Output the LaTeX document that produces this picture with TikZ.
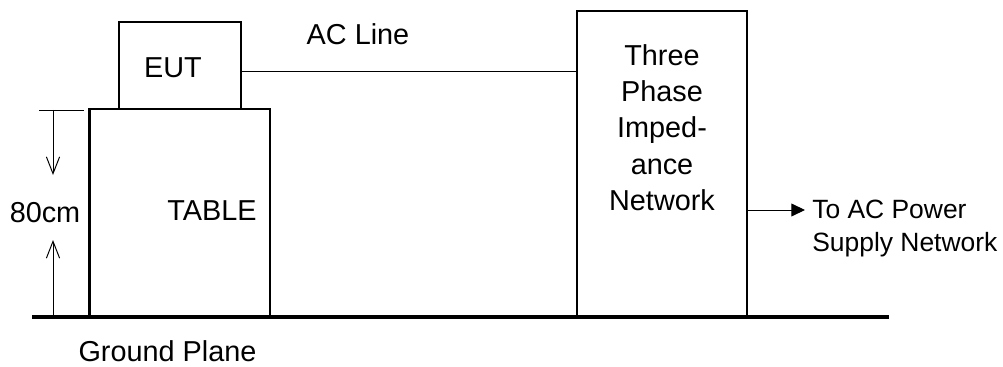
\documentclass[tikz,border=0pt]{standalone}
\usepackage{fontspec}
\setmainfont{Liberation Sans}
\usetikzlibrary{positioning,arrows.meta}

\begin{document}
\begin{tikzpicture}[x=0.025cm, y=-0.025cm,
        box/.style={rectangle, draw, line width=1.5pt, inner sep=0pt, outer sep=0pt},
        lbl/.style={font=\fontsize{20.5}{25.8}\selectfont, inner sep=0pt},
        note/.style={font=\fontsize{18.8}{23.4}\selectfont, inner sep=0pt, align=left},
        thin/.style={line width=0.7pt},
        wire/.style={line width=1pt}]
        \useasboundingbox (0,0) rectangle (1003,367);

        % Table
        \node[box, minimum width=4.5125cm, minimum height=5.2cm, anchor=south west] (table) at (89.5,317) {};
        \node[lbl] (tablelbl) at (212,211) {TABLE};

        % EUT
        \node[box, minimum width=3.06cm, minimum height=2.165cm, above=0pt of table] (eut) {};
        \node[lbl] (eutlbl) at (173,68) {EUT};

        % Network
        \node[box, minimum width=4.25cm, minimum height=7.65cm, anchor=south west] (net) at (577,317) {};
        \node[lbl, align=center, anchor=north] (netlbl) at (662,44) {Three\\Phase\\Imped-\\ance\\Network};

        % AC line
        \coordinate (acl) at (400,71.5);
        \draw[wire] (eut.east |- acl) -- (net.west |- acl);
        \node[lbl] (acllbl) at (358,34) {AC Line};

        % Supply
        \coordinate (ps) at (805,210);
        \draw[thin, -{Triangle[length=0.34cm, width=0.32cm]}] (net.east |- ps) -- (ps);
        \node[note, anchor=north west] (pslbl) at (812,200) {To AC Power\\Supply Network};

        % Height
        \coordinate (tl) at (39,110);
        \coordinate (tr) at (84,110);
        \coordinate (dtop) at (53,110);
        \coordinate (dbot) at (53,317);
        \coordinate (dm1) at (53,175);
        \coordinate (dm2) at (53,240);
        \draw[thin] (tl) -- (tr);
        \draw[thin, -{Straight Barb[length=0.42cm, width=0.33cm]}] (dtop) -- (dm1);
        \draw[thin, -{Straight Barb[length=0.42cm, width=0.33cm]}] (dbot) -- (dm2);
        \node[lbl] (dimlbl) at (45,212.5) {80cm};

        % Ground
        \coordinate (gl) at (32,317);
        \coordinate (gr) at (889,317);
        \draw[line width=2.8pt] (gl) -- (gr);
        \node[lbl] (gplbl) at (167.5,351) {Ground Plane};
\end{tikzpicture}
\end{document}
